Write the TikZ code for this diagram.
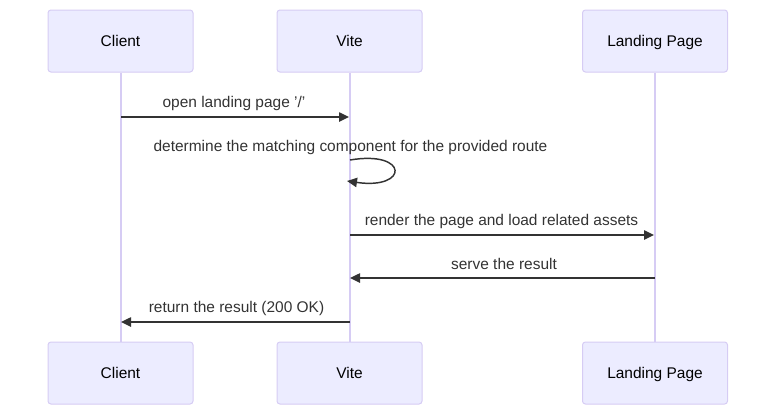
\documentclass[tikz,border=0pt]{standalone}
\usepackage{fontspec}
\setmainfont{Liberation Sans}
\usetikzlibrary{arrows.meta}
\definecolor{actfill}{HTML}{ECECFF}
\definecolor{actline}{HTML}{D6CCF4}
\definecolor{msg}{HTML}{333333}
\tikzset{
  actor/.style={draw=actline, fill=actfill, line width=0.75pt, rounded corners=2.2pt,
    minimum width=145*0.75pt, minimum height=62*0.75pt, inner sep=0pt,
    font=\fontsize{11.6}{13}\selectfont, text=black, text height=8.4pt, text depth=0pt},
  life/.style={draw=actline, line width=1.5pt},
  msgline/.style={draw=msg, line width=1.1pt, -{Triangle[length=7.5pt,width=7pt]}},
  msgtext/.style={font=\fontsize{11.6}{13}\selectfont, text=msg, inner sep=0pt,
    text height=8.4pt, text depth=0pt},
}
\begin{document}
\begin{tikzpicture}[x=0.75pt,y=-0.75pt]
\useasboundingbox (0,0) rectangle (784,419);
% actors
\node[actor] (ct) at (120.5,41) {Client};
\node[actor] (vt) at (349.5,41) {Vite};
\node[actor] (lt) at (655,41) {Landing Page};
\node[actor] (cb) at (120.5,373) {Client};
\node[actor] (vb) at (349.5,373) {Vite};
\node[actor] (lb) at (655,373) {Landing Page};
% lifelines
\draw[life] (ct.south) -- (cb.north);
\draw[life] (vt.south) -- (vb.north);
\draw[life] (lt.south) -- (lb.north);
% message anchors
\coordinate (c1) at (121,117); \coordinate (v1) at (349,117);
\coordinate (v2a) at (350,160); \coordinate (v2b) at (347,181);
\coordinate (v3) at (350,235); \coordinate (l3) at (654,235);
\coordinate (l4) at (655,278); \coordinate (v4) at (350,278);
\coordinate (v5) at (350,322); \coordinate (c5) at (121,322);
% messages
\node[msgtext] (t1) at (234,102) {open landing page '/'};
\draw[msgline] (c1) -- (v1);
\node[msgtext] (t2) at (350.5,146) {determine the matching component for the provided route};
\draw[msgline] (v2a) .. controls (409,150) and (409,190) .. (v2b);
\node[msgtext] (t3) at (501.5,220) {render the page and load related assets};
\draw[msgline] (v3) -- (l3);
\node[msgtext] (t4) at (504,264) {serve the result};
\draw[msgline] (l4) -- (v4);
\node[msgtext] (t5) at (236.5,307) {return the result (200 OK)};
\draw[msgline] (v5) -- (c5);
\end{tikzpicture}
\end{document}
